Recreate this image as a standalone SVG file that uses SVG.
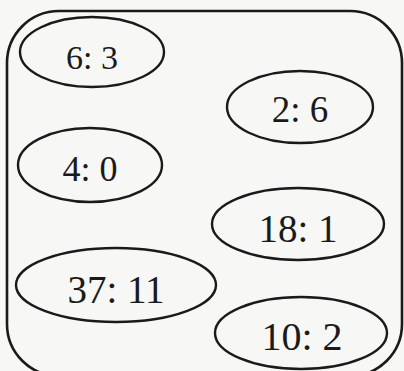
<svg xmlns="http://www.w3.org/2000/svg" width="404" height="371" viewBox="0 0 404 371">
  <style>
    .frame { fill: none; stroke: #1a1a1a; stroke-width: 2.6; }
    .node ellipse { fill: none; stroke: #1a1a1a; stroke-width: 2.4; }
    .node text { font-family: "Liberation Serif", "Times New Roman", serif; fill: #1a1a1a; text-anchor: middle; }
  </style>
  <rect x="0" y="0" width="404" height="371" fill="#f7f7f5"/>
  <rect class="frame" x="7" y="11" width="395" height="365" rx="52" ry="52"/>
  <g id="connectors"></g>
  <g id="n63" class="node">
    <ellipse cx="92" cy="52" rx="72" ry="35"/>
    <text x="92" y="69" font-size="34">6: 3</text>
  </g>
  <g id="n26" class="node">
    <ellipse cx="300" cy="107" rx="73" ry="36"/>
    <text x="300" y="122" font-size="37">2: 6</text>
  </g>
  <g id="n40" class="node">
    <ellipse cx="90" cy="165" rx="72" ry="37"/>
    <text x="90" y="181" font-size="36">4: 0</text>
  </g>
  <g id="n181" class="node">
    <ellipse cx="298" cy="224" rx="86" ry="36"/>
    <text x="298" y="242" font-size="39">18: 1</text>
  </g>
  <g id="n3711" class="node">
    <ellipse cx="116" cy="285" rx="100" ry="37"/>
    <text x="116" y="303" font-size="39">37: 11</text>
  </g>
  <g id="n102" class="node">
    <ellipse cx="301" cy="333" rx="86" ry="36"/>
    <text x="302" y="350" font-size="40">10: 2</text>
  </g>
</svg>
